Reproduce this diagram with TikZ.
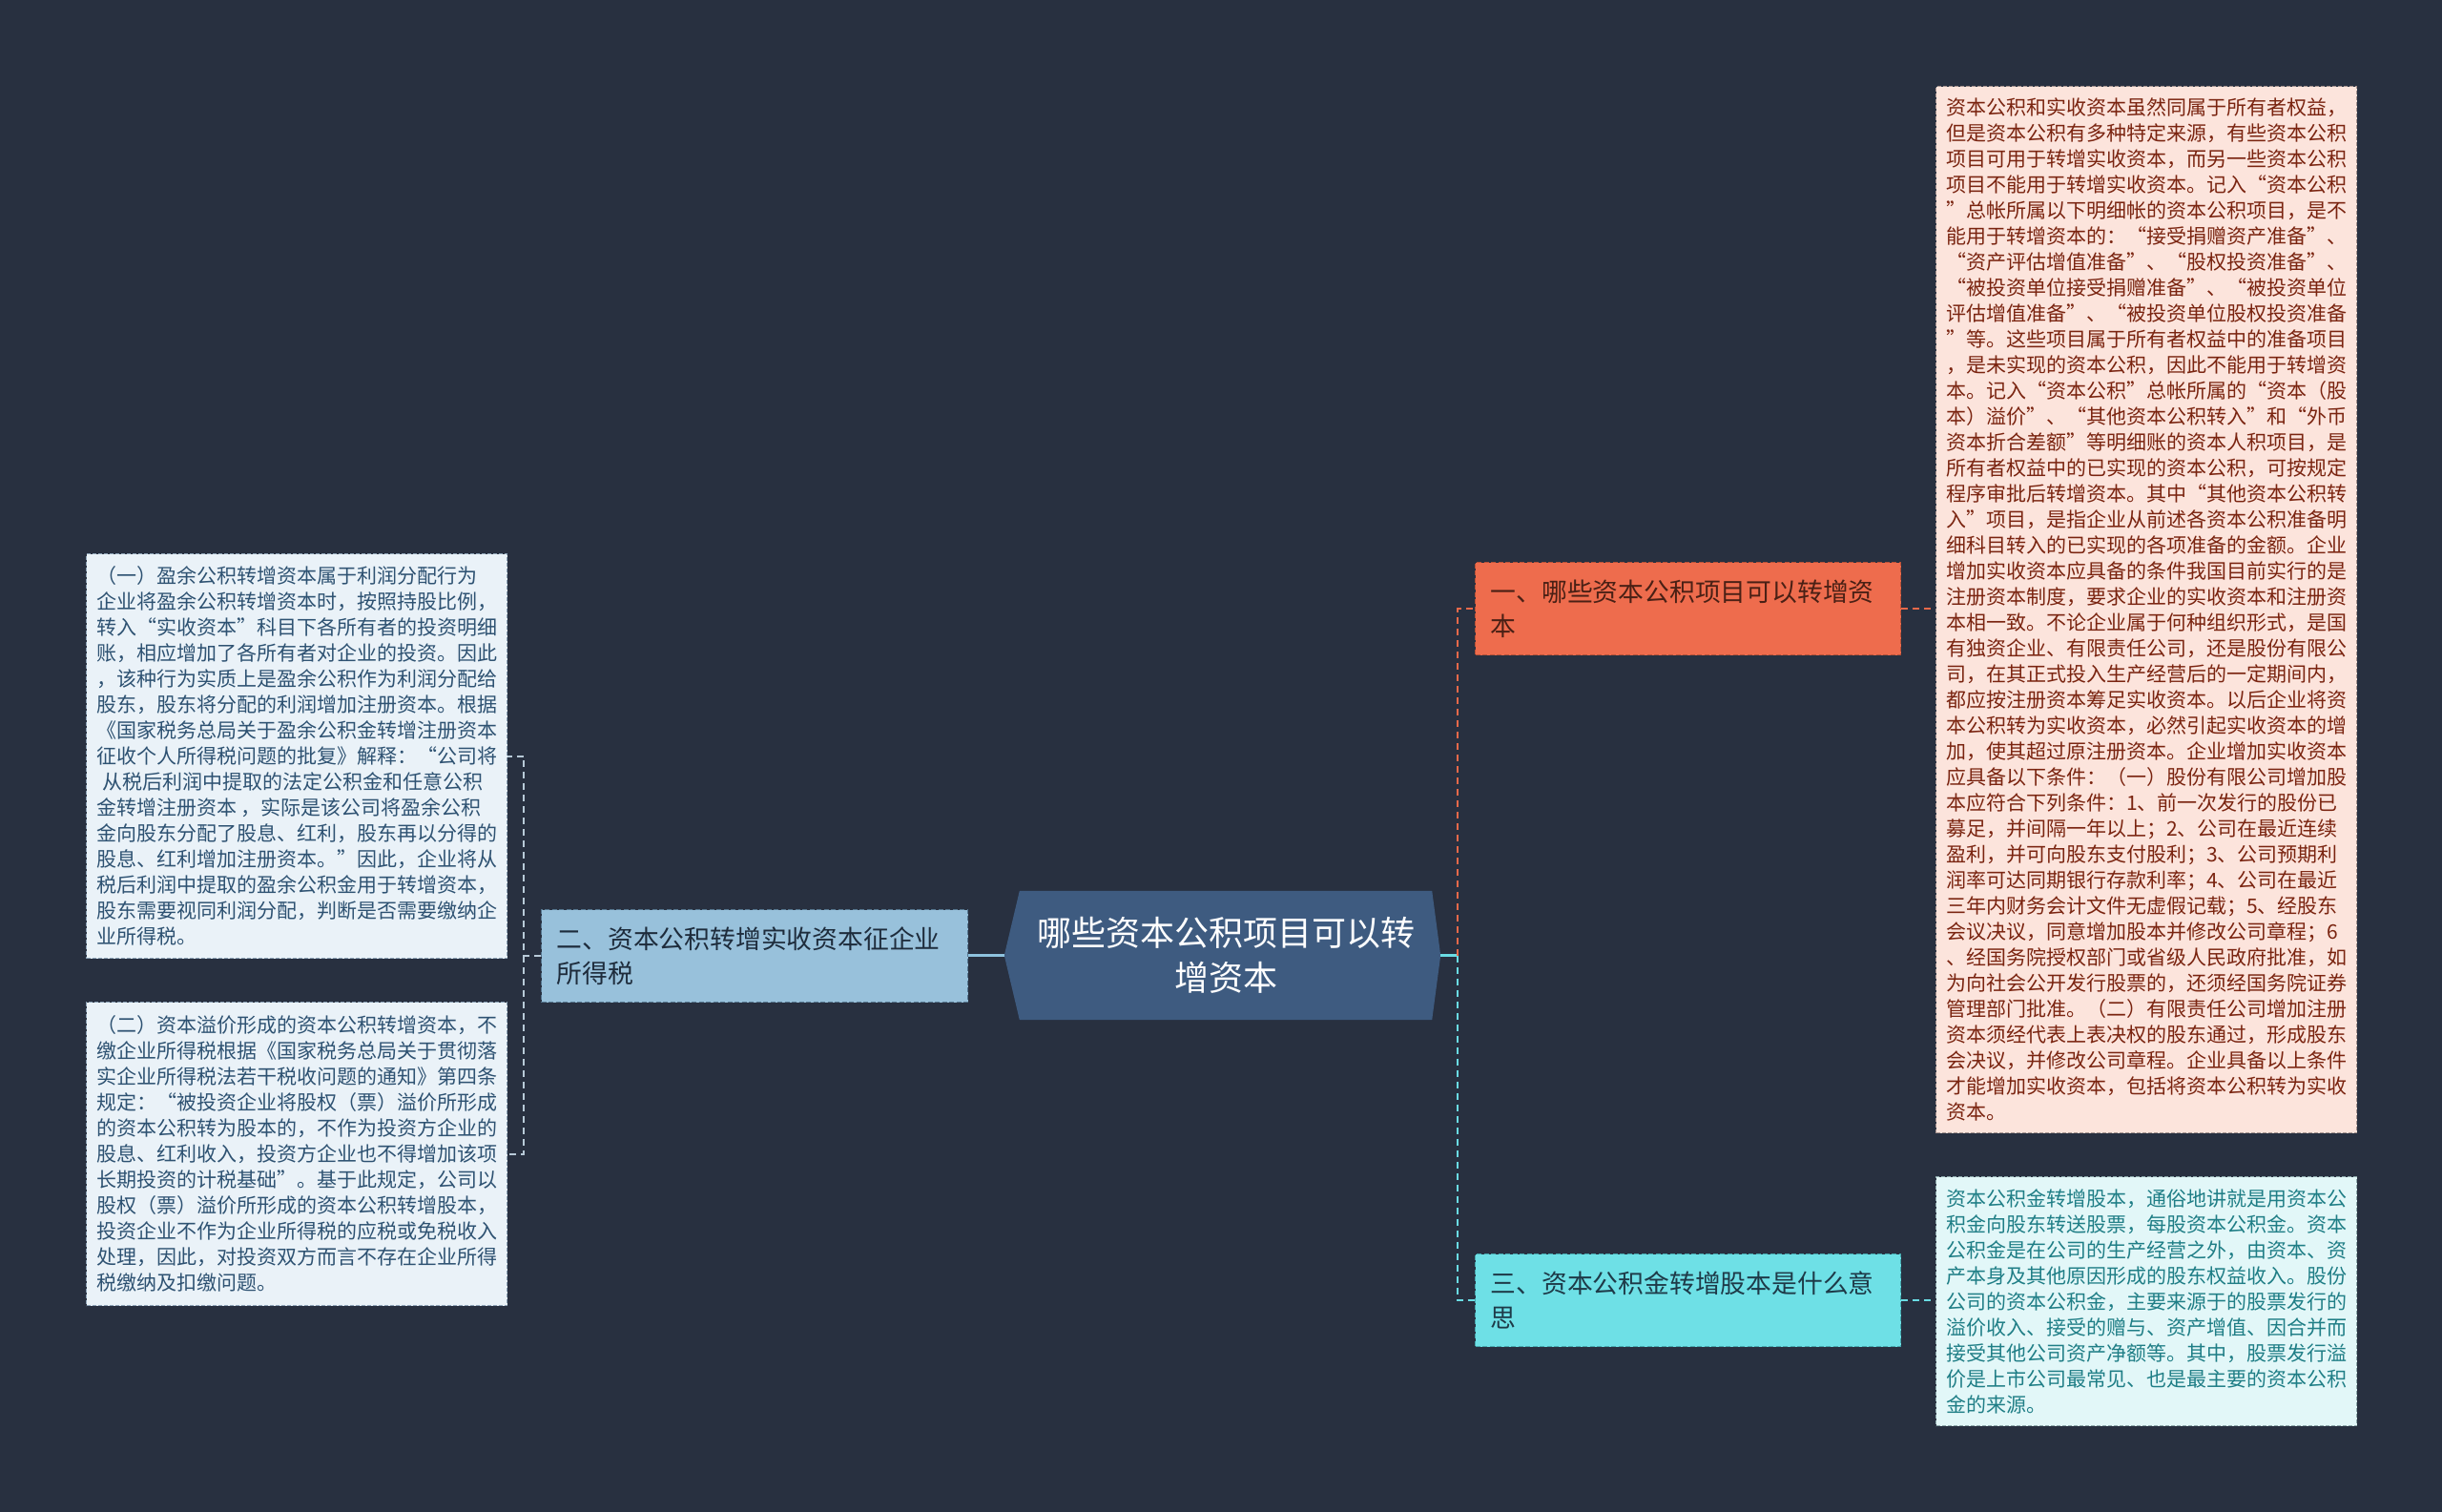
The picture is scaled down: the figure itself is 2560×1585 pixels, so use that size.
\documentclass[tikz,border=0pt]{standalone}
\usepackage{fontspec}
\setmainfont{Noto Sans CJK SC}
\usetikzlibrary{calc}
\pgfdeclarelayer{bg}
\pgfsetlayers{bg,main}
\definecolor{bgc}{HTML}{283040}
\definecolor{cfill}{HTML}{3E5B80}
\definecolor{bafill}{HTML}{EE6C4D}
\definecolor{batext}{HTML}{4A2015}
\definecolor{baborder}{HTML}{B85238}
\definecolor{rafill}{HTML}{FCE4DC}
\definecolor{ratext}{HTML}{7A2410}
\definecolor{raborder}{HTML}{A89490}
\definecolor{bbfill}{HTML}{98C1DB}
\definecolor{bbtext}{HTML}{1E2C3C}
\definecolor{bbborder}{HTML}{56768F}
\definecolor{lfill}{HTML}{EAF2F8}
\definecolor{ltext}{HTML}{2E5272}
\definecolor{lborder}{HTML}{8CA2B6}
\definecolor{bcfill}{HTML}{6EE0E6}
\definecolor{bctext}{HTML}{1E3A48}
\definecolor{bcborder}{HTML}{45A6AC}
\definecolor{rcfill}{HTML}{E2F7F8}
\definecolor{rctext}{HTML}{1F7E86}
\definecolor{rcborder}{HTML}{8EAAAC}
\definecolor{lconn}{HTML}{B8CAD8}
\definecolor{bconn}{HTML}{8EC2DE}
\definecolor{oconn}{HTML}{E8694A}
\definecolor{cconn}{HTML}{6ADCE4}
\tikzset{
  detailbox/.style={draw, dash pattern=on 4pt off 2pt, line width=1.3pt, anchor=north west,
    inner sep=0pt, align=left, font=\fontsize{21}{27}\selectfont, minimum width=441pt},
  branchbox/.style={draw, dash pattern=on 5pt off 2.5pt, line width=1.3pt, anchor=north west,
    minimum height=97pt, text width=414pt, align=left, inner sep=16pt,
    font=\fontsize{26.8}{36}\selectfont},
  conn/.style={line width=2.2pt, dash pattern=on 7pt off 5pt},
}
\begin{document}
\begin{tikzpicture}[x=1pt,y=-1pt]
\useasboundingbox (0,0) rectangle (2560,1585);

% center
\node[font=\fontsize{36}{47}\selectfont, text=white, align=center,
  minimum width=432pt, minimum height=135pt, inner sep=0pt] (c) at (1285,1001.5)
  {哪些资本公积项目可以转\\增资本};
\coordinate (cl) at ([xshift=-16pt]c.west);
\coordinate (cr) at ([xshift=9pt]c.east);

% branches
\node[branchbox, fill=bbfill, draw=bbborder, text=bbtext, minimum width=447pt, text width=415pt] (b2) at (567,953)
  {二、资本公积转增实收资本征企业\\所得税};
\node[branchbox, fill=bafill, draw=baborder, text=batext] (b1) at (1546,589)
  {一、哪些资本公积项目可以转增资\\本};
\node[branchbox, fill=bcfill, draw=bcborder, text=bctext] (b3) at (1546,1314)
  {三、资本公积金转增股本是什么意\\思};

% left detail boxes
\node[detailbox, fill=lfill, draw=lborder, text=ltext, minimum height=424pt] (l1) at (90,580)
  {（一）盈余公积转增资本属于利润分配行为\\
企业将盈余公积转增资本时，按照持股比例，\\
转入“实收资本”科目下各所有者的投资明细\\
账，相应增加了各所有者对企业的投资。因此\\
，该种行为实质上是盈余公积作为利润分配给\\
股东，股东将分配的利润增加注册资本。根据\\
《国家税务总局关于盈余公积金转增注册资本\\
征收个人所得税问题的批复》解释：“公司将\\
\hspace*{6pt}从税后利润中提取的法定公积金和任意公积\\
金转增注册资本 ，实际是该公司将盈余公积\\
金向股东分配了股息、红利，股东再以分得的\\
股息、红利增加注册资本。”因此，企业将从\\
税后利润中提取的盈余公积金用于转增资本，\\
股东需要视同利润分配，判断是否需要缴纳企\\
业所得税。};

\node[detailbox, fill=lfill, draw=lborder, text=ltext, minimum height=318pt] (l2) at (90,1050)
  {（二）资本溢价形成的资本公积转增资本，不\\
缴企业所得税根据《国家税务总局关于贯彻落\\
实企业所得税法若干税收问题的通知》第四条\\
规定：“被投资企业将股权（票）溢价所形成\\
的资本公积转为股本的，不作为投资方企业的\\
股息、红利收入，投资方企业也不得增加该项\\
长期投资的计税基础”。基于此规定，公司以\\
股权（票）溢价所形成的资本公积转增股本，\\
投资企业不作为企业所得税的应税或免税收入\\
处理，因此，对投资双方而言不存在企业所得\\
税缴纳及扣缴问题。};

% right detail boxes
\node[detailbox, fill=rafill, draw=raborder, text=ratext, minimum height=1097pt] (r1) at (2029,90)
  {资本公积和实收资本虽然同属于所有者权益，\\
但是资本公积有多种特定来源，有些资本公积\\
项目可用于转增实收资本，而另一些资本公积\\
项目不能用于转增实收资本。记入“资本公积\\
”总帐所属以下明细帐的资本公积项目，是不\\
能用于转增资本的：“接受捐赠资产准备”、\\
“资产评估增值准备”、“股权投资准备”、\\
“被投资单位接受捐赠准备”、“被投资单位\\
评估增值准备”、“被投资单位股权投资准备\\
”等。这些项目属于所有者权益中的准备项目\\
，是未实现的资本公积，因此不能用于转增资\\
本。记入“资本公积”总帐所属的“资本（股\\
本）溢价”、“其他资本公积转入”和“外币\\
资本折合差额”等明细账的资本人积项目，是\\
所有者权益中的已实现的资本公积，可按规定\\
程序审批后转增资本。其中“其他资本公积转\\
入”项目，是指企业从前述各资本公积准备明\\
细科目转入的已实现的各项准备的金额。企业\\
增加实收资本应具备的条件我国目前实行的是\\
注册资本制度，要求企业的实收资本和注册资\\
本相一致。不论企业属于何种组织形式，是国\\
有独资企业、有限责任公司，还是股份有限公\\
司，在其正式投入生产经营后的一定期间内，\\
都应按注册资本筹足实收资本。以后企业将资\\
本公积转为实收资本，必然引起实收资本的增\\
加，使其超过原注册资本。企业增加实收资本\\
应具备以下条件：（一）股份有限公司增加股\\
本应符合下列条件：1、前一次发行的股份已\\
募足，并间隔一年以上；2、公司在最近连续\\
盈利，并可向股东支付股利；3、公司预期利\\
润率可达同期银行存款利率；4、公司在最近\\
三年内财务会计文件无虚假记载；5、经股东\\
会议决议，同意增加股本并修改公司章程；6\\
、经国务院授权部门或省级人民政府批准，如\\
为向社会公开发行股票的，还须经国务院证券\\
管理部门批准。（二）有限责任公司增加注册\\
资本须经代表上表决权的股东通过，形成股东\\
会决议，并修改公司章程。企业具备以上条件\\
才能增加实收资本，包括将资本公积转为实收\\
资本。};

\node[detailbox, fill=rcfill, draw=rcborder, text=rctext, minimum height=261pt] (r2) at (2029,1233)
  {资本公积金转增股本，通俗地讲就是用资本公\\
积金向股东转送股票，每股资本公积金。资本\\
公积金是在公司的生产经营之外，由资本、资\\
产本身及其他原因形成的股东权益收入。股份\\
公司的资本公积金，主要来源于的股票发行的\\
溢价收入、接受的赠与、资产增值、因合并而\\
接受其他公司资产净额等。其中，股票发行溢\\
价是上市公司最常见、也是最主要的资本公积\\
金的来源。};

% background and center shape
\begin{pgfonlayer}{bg}
\fill[bgc] (0,0) rectangle (2560,1585);
\fill[cfill] (c.north west) -- (c.north east) -- (cr) -- (c.south east)
  -- (c.south west) -- (cl) -- cycle;
\end{pgfonlayer}

% connectors
\draw[line width=2.5pt, bconn] (cl) -- (cl -| b2.east);
\draw[conn, lconn] (b2.west) -- ++(-18,0) coordinate (tl) |- (l1.east);
\draw[conn, lconn] (tl) |- (l2.east);
\draw[line width=2.5pt, cconn] (cr) -- ++(18,0) coordinate (tr);
\draw[conn, oconn] (tr) |- (b1.west);
\draw[conn, cconn] (tr) |- (b3.west);
\draw[conn, oconn] (b1.east) -- (b1.east -| r1.west);
\draw[conn, cconn] (b3.east) -- (b3.east -| r2.west);
\end{tikzpicture}
\end{document}
